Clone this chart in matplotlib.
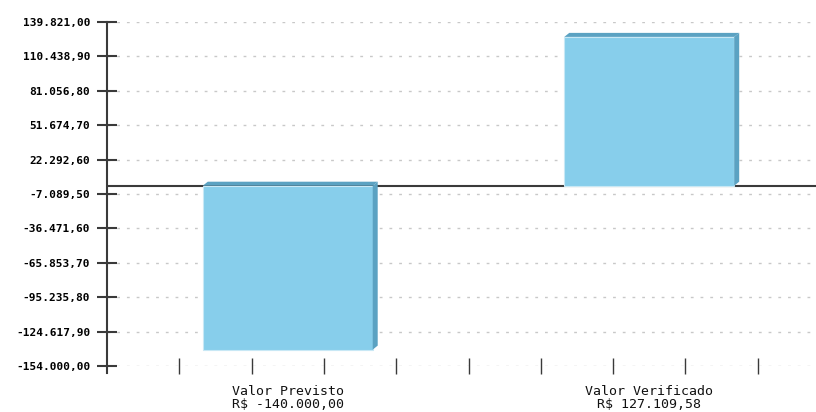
import numpy as np
import matplotlib.pyplot as plt
from matplotlib.patches import Polygon

categories = ["Valor Previsto", "Valor Verificado"]
values = [-140000.00, 127109.58]
y_ticks = [-154000.00, -124617.90, -95235.80, -65853.70, -36471.60,
           -7089.50, 22292.60, 51674.70, 81056.80, 110438.90, 139821.00]

FACE = "#87CEEB"
SIDE = "#5BA2C2"
EDGE = "#C8E8F5"
DARK = "#3a3a3a"
GRID = "#c8c8c8"


def br_money(v):
    # 1234567.8 -> 1.234.567,80
    s = f"{v:,.2f}"
    return s.replace(",", "X").replace(".", ",").replace("X", ".")


fig = plt.figure(figsize=(8.16, 4.12), dpi=100)
# axes runs slightly past the right edge of the image, like the original
ax = fig.add_axes([107 / 816, 46 / 412, 723 / 816, 344 / 412])

ax.set_xlim(0, 10)
ax.set_ylim(y_ticks[0], y_ticks[-1])

centers = [2.5, 7.5]
width = 2.35

# grid lines
for yv in y_ticks:
    ax.axhline(yv, color=GRID, linestyle=(0, (2, 5)), linewidth=1, zorder=0)

# zero line
ax.axhline(0, color=DARK, linewidth=1.5, zorder=1)

# depth of the 3d look, in data units (5 px right, 4 px up)
x_per_px = 10 / 723
y_per_px = (y_ticks[-1] - y_ticks[0]) / 344
dx = 5 * x_per_px
dy = 4 * y_per_px

ax.bar(centers, values, width=width, color=FACE, edgecolor=EDGE,
       linewidth=0.8, zorder=3)

for c, v in zip(centers, values):
    x0 = c - width / 2
    x1 = c + width / 2
    top = max(v, 0)
    bot = min(v, 0)
    top_face = Polygon([(x0, top), (x0 + dx, top + dy), (x1 + dx, top + dy), (x1, top)],
                       closed=True, facecolor=SIDE, edgecolor="none", zorder=3)
    side_face = Polygon([(x1, top), (x1 + dx, top + dy), (x1 + dx, bot + dy), (x1, bot)],
                        closed=True, facecolor=SIDE, edgecolor="none", zorder=3)
    ax.add_patch(top_face)
    ax.add_patch(side_face)

# axes styling
for side in ["top", "right", "bottom"]:
    ax.spines[side].set_visible(False)
ax.spines["left"].set_color(DARK)
ax.spines["left"].set_linewidth(1.5)
ax.spines["left"].set_bounds(y_ticks[0] - 7 * y_per_px, y_ticks[-1])

ax.set_yticks(y_ticks)
ax.set_yticklabels([br_money(v) for v in y_ticks], fontfamily="DejaVu Sans Mono",
                   fontweight="bold", fontsize=8)
ax.tick_params(axis="y", direction="inout", length=14, width=1.5, color=DARK, pad=5)

ax.set_xticks(np.arange(1, 10))
ax.set_xticklabels([])
ax.tick_params(axis="x", direction="inout", length=11, width=1, color=DARK)

for c, name, v in zip(centers, categories, values):
    ax.text(c, -0.055, name + "\nR$ " + br_money(v), transform=ax.get_xaxis_transform(),
            ha="center", va="top", fontfamily="DejaVu Sans Mono", fontsize=9.5,
            linespacing=1.05, color="#111111")

fig.savefig("out.png", dpi=100)
